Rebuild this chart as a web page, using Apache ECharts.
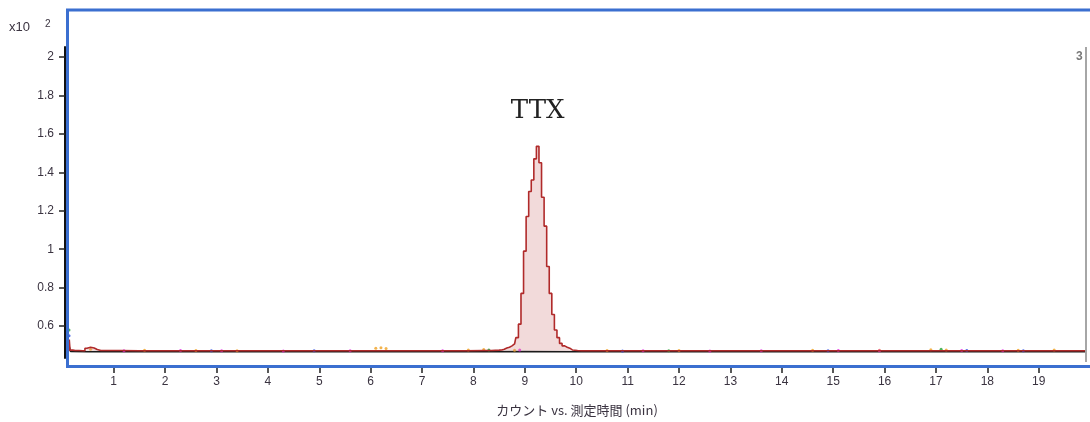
<!DOCTYPE html>
<html><head><meta charset="utf-8">
<script src="https://cdn.jsdelivr.net/npm/echarts@6/dist/echarts.min.js"></script>
<style>html,body{margin:0;padding:0;background:#fff}#c{width:1090px;height:422px}</style>
</head><body><div id="c"></div>
<script>
// ---- data (y in units of x10^2 counts, x in minutes) ----
const xTicks = [1,2,3,4,5,6,7,8,9,10,11,12,13,14,15,16,17,18,19];
const yTicks = [0.6,0.8,1.0,1.2,1.4,1.6,1.8,2.0];
const peakLabel = 'TTX';
const peakTime = 9.25, peakValue = 1.535;

// main (red) trace
const redTimes  = [0.13,0.14,0.16,0.25,0.40,0.48,0.55,0.62,0.68,0.75,1.5,2.5,3.5,4.5,5.5,6.5,7.5,8.2,8.5,8.55,8.60,8.65,8.70,8.75,8.80,8.85,8.90,8.95,9.00,9.05,9.10,9.15,9.20,9.25,9.30,9.35,9.40,9.45,9.50,9.55,9.60,9.65,9.70,9.75,9.80,9.85,9.90,9.95,10.1,11,12,13,14,15,16,17,18,19,19.9];
const redValues = [0.47,0.53,0.475,0.473,0.472,0.485,0.49,0.486,0.478,0.473,0.472,0.472,0.472,0.472,0.472,0.472,0.472,0.473,0.475,0.476,0.48,0.486,0.49,0.497,0.507,0.54,0.61,0.77,0.99,1.17,1.30,1.36,1.47,1.535,1.45,1.27,1.12,0.91,0.77,0.66,0.58,0.54,0.51,0.497,0.49,0.485,0.476,0.473,0.472,0.472,0.472,0.472,0.472,0.472,0.472,0.472,0.472,0.472,0.472];

// black trace
const blackTimes  = [0.13,0.16,0.5,1,2,3,4,5,6,7,8,9,10,11,12,13,14,15,16,17,18,19,19.9];
const blackValues = [0.50,0.468,0.467,0.468,0.467,0.468,0.467,0.468,0.467,0.468,0.467,0.468,0.467,0.468,0.467,0.468,0.467,0.468,0.467,0.468,0.467,0.468,0.467];

// noise dots of the other traces
const orangeDots  = [[0.55,0.48],[1.6,0.474],[2.6,0.473],[3.4,0.472],[6.1,0.485],[6.2,0.487],[6.3,0.483],[7.9,0.476],[8.2,0.478],[8.8,0.474],[10.6,0.473],[12.0,0.473],[14.6,0.474],[15.9,0.474],[16.9,0.477],[17.2,0.476],[18.6,0.474],[19.3,0.476]];
const magentaDots = [[1.2,0.472],[2.3,0.473],[3.1,0.472],[4.3,0.471],[5.6,0.472],[7.4,0.472],[8.9,0.475],[11.3,0.472],[12.6,0.471],[13.6,0.472],[15.1,0.473],[15.9,0.472],[17.5,0.473],[18.3,0.472]];
const blueDots    = [[0.13,0.55],[2.9,0.472],[4.9,0.472],[10.9,0.471],[14.9,0.472],[17.6,0.473],[18.7,0.472]];
const greenDots   = [[0.13,0.58],[8.3,0.475],[11.8,0.472],[17.1,0.48]];

const pairs = (t, v) => t.map((x, i) => [x, v[i]]);
const dotSeries = (data, color) => ({type:'scatter', data, symbolSize:3, itemStyle:{color}, silent:true, z:3});

const chart = echarts.init(document.getElementById('c'), null, {renderer:'canvas'});
const txt = '#3a3340';
chart.setOption({
  animation:false,
  grid:{left:69, right:5, top:47, bottom:64},
  xAxis:{
    type:'value', min:0.13, max:19.9, offset:9,
    axisLine:{show:false},
    axisTick:{show:true, customValues:xTicks, length:6, lineStyle:{color:'#222', width:1.5}},
    axisLabel:{customValues:xTicks, margin:9, fontSize:12, color:txt, fontFamily:'Liberation Sans'},
    splitLine:{show:false},
    name:'カウント vs. 測定時間 (min)', nameLocation:'middle', nameGap:37,
    nameTextStyle:{fontSize:13, color:txt, fontFamily:'Noto Sans CJK JP'}
  },
  yAxis:{
    type:'value', min:0.434, max:2.052, offset:4,
    axisLine:{show:true, lineStyle:{color:'#111', width:2}},
    axisTick:{show:true, customValues:yTicks, length:6, lineStyle:{color:'#222', width:1.5}},
    axisLabel:{customValues:yTicks, margin:11, fontSize:12, color:txt, fontFamily:'Liberation Sans',
      formatter:v => String(Math.round(v*10)/10)},
    splitLine:{show:false}
  },
  graphic:[
    {type:'polyline', shape:{points:[[67.5,367],[67.5,10],[1090,10]]}, style:{stroke:'#3b6fd0', lineWidth:3, fill:null}, z:10},
    {type:'line', shape:{x1:66, y1:366.5, x2:1090, y2:366.5}, style:{stroke:'#3b6fd0', lineWidth:3}, z:10},
    {type:'line', shape:{x1:1086, y1:47, x2:1086, y2:362}, style:{stroke:'#888', lineWidth:1.5}, z:10},
    {type:'text', left:9, top:21, style:{text:'x10', fontSize:13, fill:txt, fontFamily:'Liberation Sans'}},
    {type:'text', left:45, top:19, style:{text:'2', fontSize:10, fill:txt, fontFamily:'Liberation Sans'}},
    {type:'text', left:1076, top:51, style:{text:'3', fontSize:12, fill:'#777', fontFamily:'Liberation Sans', fontWeight:'bold'}}
  ],
  series:[
    {type:'line', data:pairs(blackTimes, blackValues), showSymbol:false, lineStyle:{color:'#1a1a1a', width:1.5}, z:2, silent:true},
    dotSeries(orangeDots, '#f0a020'),
    dotSeries(magentaDots, '#e020e0'),
    dotSeries(blueDots, '#2040e0'),
    dotSeries(greenDots, '#20a030'),
    {type:'line', data:pairs(redTimes, redValues), step:'middle', showSymbol:false, silent:true, z:4,
      lineStyle:{color:'#b02a2a', width:1.6},
      areaStyle:{color:'rgba(214,140,140,0.45)', origin:0.472},
      markPoint:{symbol:'circle', symbolSize:0, silent:true,
        data:[{coord:[peakTime, peakValue]}],
        label:{show:true, formatter:peakLabel, offset:[0,-35], fontSize:26, color:'#222',
          fontFamily:'DejaVu Serif'}}
    }
  ]
});
</script></body></html>
